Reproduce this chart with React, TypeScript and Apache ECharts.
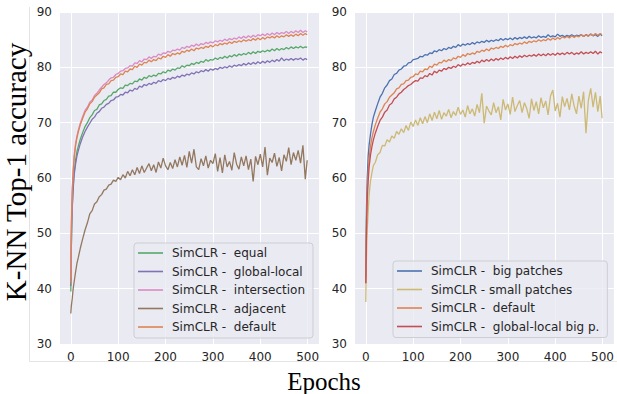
import React, { useEffect, useRef } from 'react';
import * as echarts from 'echarts';

const epochs = [
  0, 1, 2, 3, 5, 7, 10, 13, 16, 20,
  25, 30, 35, 40, 45, 50, 55, 60, 65, 70,
  75, 80, 85, 90, 95, 100, 105, 110, 115, 120,
  125, 130, 135, 140, 145, 150, 155, 160, 165, 170,
  175, 180, 185, 190, 195, 200, 205, 210, 215, 220,
  225, 230, 235, 240, 245, 250, 255, 260, 265, 270,
  275, 280, 285, 290, 295, 300, 305, 310, 315, 320,
  325, 330, 335, 340, 345, 350, 355, 360, 365, 370,
  375, 380, 385, 390, 395, 400, 405, 410, 415, 420,
  425, 430, 435, 440, 445, 450, 455, 460, 465, 470,
  475, 480, 485, 490, 495, 499,
];

const xTicks = [0, 100, 200, 300, 400, 500];
const yTicks = [30, 40, 50, 60, 70, 80, 90];

// SimCLR - default (same run in both panels)
const defaultAcc = [
  41.0, 50.0, 54.5, 57.5, 61.0, 63.5, 65.8, 67.3, 68.4, 69.6,
  70.8, 71.9, 72.5, 73.4, 73.8, 74.6, 75.0, 75.4, 76.1, 76.3,
  76.9, 77.0, 77.6, 77.7, 78.2, 78.3, 78.8, 78.7, 79.3, 79.2,
  79.7, 79.6, 80.2, 80.0, 80.6, 80.4, 80.9, 80.8, 81.3, 81.0,
  81.4, 81.2, 81.7, 81.5, 82.0, 81.8, 82.3, 82.0, 82.5, 82.3,
  82.6, 82.4, 82.9, 82.7, 83.1, 82.9, 83.3, 83.0, 83.5, 83.3,
  83.6, 83.4, 83.8, 83.6, 84.0, 83.7, 84.1, 83.9, 84.3, 84.1,
  84.4, 84.2, 84.6, 84.3, 84.7, 84.5, 84.8, 84.6, 85.0, 84.7,
  85.0, 84.8, 85.2, 84.9, 85.3, 85.0, 85.4, 85.1, 85.5, 85.3,
  85.6, 85.3, 85.7, 85.4, 85.7, 85.5, 85.9, 85.6, 85.9, 85.6,
  86.0, 85.7, 86.1, 85.8, 86.1, 85.9,
];

const intersectionAcc = [
  42.0, 51.0, 55.0, 58.0, 61.5, 64.0, 66.2, 67.6, 68.7, 69.9,
  71.1, 72.2, 72.8, 73.7, 74.1, 74.9, 75.3, 75.9, 76.4, 76.9,
  77.2, 77.7, 78.1, 78.2, 78.7, 78.9, 79.3, 79.4, 79.8, 79.9,
  80.3, 80.2, 80.8, 80.7, 81.2, 81.0, 81.5, 81.4, 81.9, 81.6,
  82.0, 81.9, 82.4, 82.2, 82.6, 82.5, 82.9, 82.7, 83.1, 83.0,
  83.3, 83.1, 83.6, 83.4, 83.8, 83.6, 84.0, 83.8, 84.2, 83.9,
  84.3, 84.1, 84.5, 84.3, 84.6, 84.4, 84.8, 84.6, 84.9, 84.7,
  85.1, 84.8, 85.2, 85.0, 85.3, 85.1, 85.5, 85.2, 85.6, 85.3,
  85.7, 85.4, 85.8, 85.5, 85.9, 85.7, 86.0, 85.7, 86.1, 85.8,
  86.2, 85.9, 86.3, 86.0, 86.3, 86.1, 86.5, 86.1, 86.5, 86.2,
  86.6, 86.3, 86.7, 86.3, 86.6, 86.4,
];

const equalAcc = [
  39.5, 47.0, 52.0, 55.0, 58.5, 61.0, 63.2, 64.8, 65.8, 67.0,
  68.2, 69.3, 70.0, 70.9, 71.4, 72.2, 72.4, 73.2, 73.4, 74.0,
  74.2, 74.8, 74.9, 75.5, 75.5, 76.0, 76.3, 76.2, 76.8, 76.7,
  77.1, 77.0, 77.5, 77.4, 77.9, 77.7, 78.2, 78.0, 78.5, 78.3,
  78.6, 78.4, 78.9, 78.8, 79.2, 79.0, 79.5, 79.3, 79.7, 79.5,
  79.9, 79.8, 80.3, 80.0, 80.4, 80.3, 80.7, 80.5, 80.9, 80.7,
  81.1, 80.9, 81.4, 81.1, 81.4, 81.3, 81.7, 81.4, 81.8, 81.6,
  82.0, 81.7, 82.1, 81.9, 82.3, 82.0, 82.4, 82.2, 82.5, 82.3,
  82.7, 82.4, 82.8, 82.5, 82.9, 82.7, 83.0, 82.8, 83.1, 82.9,
  83.3, 83.0, 83.4, 83.1, 83.4, 83.2, 83.6, 83.3, 83.7, 83.4,
  83.7, 83.5, 83.8, 83.5, 83.7, 83.6,
];

const globalLocalAcc = [
  40.5, 47.0, 51.5, 54.5, 58.0, 60.5, 62.5, 64.0, 65.0, 66.2,
  67.4, 68.4, 69.2, 69.9, 70.6, 71.0, 71.7, 72.0, 72.6, 72.8,
  73.3, 73.5, 74.0, 74.1, 74.6, 74.7, 75.1, 75.0, 75.5, 75.4,
  75.9, 75.7, 76.2, 76.0, 76.6, 76.4, 76.9, 76.7, 77.1, 76.9,
  77.3, 77.1, 77.6, 77.4, 77.8, 77.6, 78.0, 77.8, 78.2, 78.0,
  78.4, 78.2, 78.6, 78.4, 78.8, 78.6, 79.0, 78.8, 79.2, 79.0,
  79.4, 79.2, 79.6, 79.3, 79.7, 79.5, 79.8, 79.6, 80.0, 79.8,
  80.1, 79.9, 80.3, 80.0, 80.4, 80.2, 80.5, 80.3, 80.7, 80.4,
  80.8, 80.5, 80.9, 80.6, 81.0, 80.7, 81.1, 80.8, 81.2, 80.9,
  81.3, 81.0, 81.4, 81.1, 81.7, 81.2, 81.5, 81.3, 81.6, 81.3,
  81.6, 81.4, 81.7, 81.3, 81.6, 81.4,
];

const adjacentAcc = [
  35.5, 36.8, 37.5, 38.2, 40.0, 41.2, 43.0, 44.6, 45.7, 47.3,
  49.0, 50.6, 51.9, 53.5, 54.1, 55.3, 55.7, 56.6, 57.0, 57.8,
  58.0, 58.7, 58.9, 59.6, 59.4, 60.1, 59.7, 60.6, 60.0, 61.2,
  60.4, 61.5, 60.6, 61.9, 60.8, 62.2, 61.0, 61.8, 62.6, 61.3,
  62.4, 61.0, 62.9, 61.8, 63.6, 62.2, 61.5, 62.8, 61.7, 63.3,
  62.0, 63.8, 62.3, 64.1, 61.9, 64.8, 62.7, 65.2, 62.0, 61.5,
  63.5, 62.2, 64.0, 61.8, 63.2, 62.6, 64.4, 61.2, 63.7, 60.9,
  64.2, 62.0, 63.0, 61.4, 64.6, 62.5, 61.6, 63.8, 62.2, 64.0,
  61.5, 63.4, 59.4, 63.9, 62.4, 64.3, 62.0, 65.6, 60.5, 63.6,
  62.8, 64.5, 62.1, 63.7, 61.3, 64.2, 63.0, 65.5, 62.4, 64.6,
  63.2, 65.0, 62.7, 65.9, 59.8, 63.2,
];

const bigPatchesAcc = [
  42.0, 52.0, 57.0, 60.0, 64.0, 66.0, 68.0, 69.7, 71.0, 72.1,
  73.4, 74.6, 75.3, 76.3, 76.8, 77.6, 77.9, 78.7, 78.9, 79.5,
  79.7, 80.2, 80.3, 80.8, 80.9, 81.4, 81.5, 81.6, 82.0, 81.9,
  82.3, 82.2, 82.6, 82.5, 83.0, 82.8, 83.2, 83.0, 83.4, 83.2,
  83.6, 83.4, 83.8, 83.6, 84.1, 83.8, 84.2, 84.0, 84.3, 84.1,
  84.5, 84.2, 84.6, 84.4, 84.7, 84.5, 84.9, 84.6, 84.9, 84.7,
  85.0, 84.8, 85.2, 84.9, 85.2, 85.0, 85.3, 85.0, 85.4, 85.1,
  85.4, 85.2, 85.5, 85.2, 85.6, 85.3, 85.5, 85.3, 85.7, 85.4,
  85.6, 85.4, 85.9, 85.5, 85.7, 85.5, 86.0, 85.6, 85.8, 85.5,
  85.8, 85.6, 85.9, 85.6, 85.8, 85.7, 85.9, 85.6, 85.9, 85.7,
  86.0, 85.7, 85.9, 85.6, 86.0, 85.7,
];

const smallPatchesAcc = [
  37.6, 44.0, 48.0, 50.5, 54.0, 57.0, 59.5, 61.0, 62.3, 62.8,
  64.2, 64.6, 65.9, 65.8, 66.9, 66.5, 67.6, 67.2, 68.4, 67.9,
  68.9, 68.2, 69.5, 68.6, 70.1, 69.3, 70.5, 69.5, 70.9, 69.8,
  71.1, 70.0, 71.6, 70.4, 71.9, 70.7, 72.2, 70.6, 71.8, 71.2,
  72.4, 70.9, 72.0, 71.3, 72.8, 71.5, 72.3, 71.0, 73.1, 71.6,
  72.5, 71.2, 73.3, 71.8, 75.3, 69.9, 73.0, 72.1, 71.4, 73.6,
  71.8, 72.9, 70.5, 74.2, 72.3, 73.4, 71.5, 74.6, 72.0, 73.1,
  74.0, 71.8, 73.6, 72.5, 70.8, 74.3, 72.2, 73.8, 71.6, 74.5,
  72.7, 73.9, 71.4, 74.8, 75.9, 72.1, 73.5, 71.0, 74.7, 72.9,
  74.4, 72.3, 75.2, 73.0, 71.6, 74.8, 72.6, 75.6, 68.1, 74.0,
  76.2, 72.8, 75.5, 72.0, 74.8, 70.8,
];

const globalLocalBigAcc = [
  41.0, 48.0, 53.0, 56.0, 59.5, 62.0, 64.2, 65.7, 66.9, 68.1,
  69.3, 70.4, 71.0, 71.9, 72.3, 73.2, 73.5, 74.3, 74.6, 75.2,
  75.5, 76.0, 76.3, 76.7, 76.9, 77.3, 77.6, 77.5, 78.1, 78.0,
  78.5, 78.3, 78.9, 78.6, 79.3, 79.0, 79.5, 79.3, 79.8, 79.6,
  80.0, 79.8, 80.2, 80.0, 80.5, 80.2, 80.6, 80.4, 80.8, 80.5,
  80.9, 80.7, 81.1, 80.8, 81.3, 81.0, 81.4, 81.1, 81.5, 81.2,
  81.6, 81.3, 81.7, 81.4, 81.8, 81.5, 81.9, 81.6, 82.0, 81.7,
  82.1, 81.8, 82.2, 81.9, 82.2, 82.0, 82.3, 82.0, 82.4, 82.1,
  82.4, 82.1, 82.5, 82.2, 82.5, 82.2, 82.6, 82.3, 82.6, 82.3,
  82.7, 82.4, 82.7, 82.3, 82.6, 82.4, 82.8, 82.4, 82.7, 82.5,
  82.8, 82.5, 82.9, 82.4, 82.8, 82.6,
];

const leftNames = [
  'SimCLR -  equal',
  'SimCLR -  global-local',
  'SimCLR -  intersection',
  'SimCLR -  adjacent',
  'SimCLR -  default',
];
const rightNames = [
  'SimCLR -  big patches',
  'SimCLR - small patches',
  'SimCLR -  default',
  'SimCLR -  global-local big p.',
];

const C = {
  blue: '#4C72B0',
  orange: '#DD8452',
  green: '#55A868',
  red: '#C44E52',
  purple: '#8172B3',
  brown: '#937860',
  pink: '#DA8BC3',
  olive: '#CCB974',
};

const TEXT = '#262626';
const FONT = 'DejaVu Sans';

function mk(name: string, vals: number[], color: string, idx: number) {
  return {
    type: 'line',
    name,
    xAxisIndex: idx,
    yAxisIndex: idx,
    data: epochs.map((e, i) => [e, vals[i]]),
    showSymbol: false,
    symbol: 'none',
    silent: true,
    lineStyle: { width: 1.3, color },
    itemStyle: { color },
  };
}

function xAxis(gridIndex: number) {
  return {
    type: 'value',
    gridIndex,
    min: -24.95,
    max: 523.95,
    splitNumber: 5,
    axisLine: { show: false },
    axisTick: { show: false },
    splitLine: { show: true, lineStyle: { color: '#ffffff', width: 1 } },
    axisLabel: {
      show: true,
      showMinLabel: false,
      showMaxLabel: false,
      margin: 7,
      color: TEXT,
      fontSize: 12,
      fontFamily: FONT,
      formatter: (v: number) => (xTicks.indexOf(v) >= 0 ? String(v) : ''),
    },
  };
}

function yAxis(gridIndex: number) {
  return {
    type: 'value',
    gridIndex,
    min: yTicks[0],
    max: yTicks[yTicks.length - 1],
    interval: 10,
    axisLine: { show: false },
    axisTick: { show: false },
    splitLine: { show: true, lineStyle: { color: '#ffffff', width: 1 } },
    axisLabel: { margin: 7, color: TEXT, fontSize: 12, fontFamily: FONT },
  };
}

function legend(data: string[], left: number, top: number) {
  return {
    data,
    orient: 'vertical',
    left,
    top,
    padding: [3, 8, 4, 4],
    itemGap: 4.5,
    itemWidth: 25,
    itemHeight: 1.6,
    icon: 'rect',
    backgroundColor: 'rgba(234,234,242,0.8)',
    borderColor: '#cdcdd3',
    borderWidth: 1,
    borderRadius: 3,
    selectedMode: false,
    textStyle: {
      color: TEXT,
      fontSize: 12,
      fontFamily: FONT,
      lineHeight: 14,
      padding: [0, 0, 0, 4],
    },
  };
}

export default function App() {
  const ref = useRef<HTMLDivElement>(null);

  useEffect(() => {
    document.body.style.margin = '0';
    if (!ref.current) return;
    const chart = echarts.init(ref.current, undefined, { renderer: 'svg' });
    chart.setOption({
      animation: false,
      backgroundColor: '#ffffff',
      grid: [
        { left: 59, top: 12, width: 260, height: 332, show: true, backgroundColor: '#EAEAF2', borderWidth: 0 },
        { left: 354, top: 12, width: 261, height: 332, show: true, backgroundColor: '#EAEAF2', borderWidth: 0 },
      ],
      xAxis: [xAxis(0), xAxis(1)],
      yAxis: [yAxis(0), yAxis(1)],
      legend: [legend(leftNames, 134, 243), legend(rightNames, 393, 261)],
      series: [
        mk(leftNames[0], equalAcc, C.green, 0),
        mk(leftNames[1], globalLocalAcc, C.purple, 0),
        mk(leftNames[2], intersectionAcc, C.pink, 0),
        mk(leftNames[3], adjacentAcc, C.brown, 0),
        mk(leftNames[4], defaultAcc, C.orange, 0),
        mk(rightNames[0], bigPatchesAcc, C.blue, 1),
        mk(rightNames[1], smallPatchesAcc, C.olive, 1),
        mk(rightNames[2], defaultAcc, C.orange, 1),
        mk(rightNames[3], globalLocalBigAcc, C.red, 1),
      ],
      graphic: [
        { type: 'line', shape: { x1: 29.5, y1: 7, x2: 29.5, y2: 361.5 }, style: { stroke: '#e4e4e4', lineWidth: 1 }, silent: true },
        { type: 'line', shape: { x1: 29.5, y1: 361.5, x2: 617, y2: 361.5 }, style: { stroke: '#e4e4e4', lineWidth: 1 }, silent: true },
        {
          type: 'text',
          x: 16,
          y: 172,
          rotation: Math.PI / 2,
          style: {
            text: 'K-NN Top-1 accuracy',
            font: '29px "Liberation Serif"',
            fill: '#000000',
            textAlign: 'center',
            textVerticalAlign: 'middle',
          },
          silent: true,
        },
        {
          type: 'text',
          x: 324,
          y: 381,
          style: {
            text: 'Epochs',
            font: '25px "Liberation Serif"',
            fill: '#000000',
            textAlign: 'center',
            textVerticalAlign: 'middle',
          },
          silent: true,
        },
      ],
    });
    return () => chart.dispose();
  }, []);

  return <div ref={ref} style={{ width: 617, height: 394 }} />;
}
